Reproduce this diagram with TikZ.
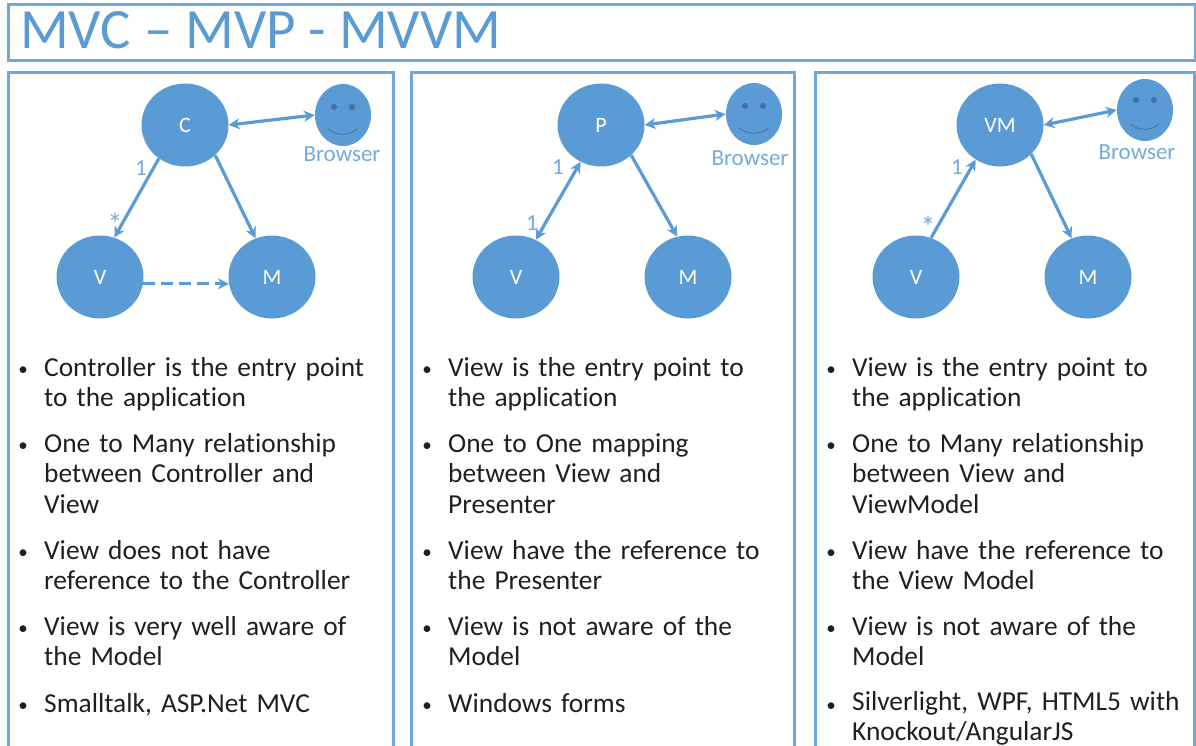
\documentclass[tikz,border=0pt]{standalone}
\usepackage{fontspec}
\setmainfont[Ligatures=NoCommon]{Carlito}
\usetikzlibrary{arrows.meta}
\definecolor{mvcblue}{HTML}{5B9BD5}
\definecolor{mvcframe}{HTML}{6FA8DC}
\definecolor{mvceye}{HTML}{41719C}
\definecolor{mvctext}{HTML}{1F1F1F}
\tikzset{
  panel/.style={draw=mvcframe, line width=3pt},
  role/.style={ellipse node, fill=mvcblue, text=white, font=\fontsize{22}{24}\selectfont},
  ellipse node/.style={shape=ellipse, minimum width=87pt, minimum height=83pt, inner sep=0pt},
  smiley/.style={shape=ellipse, fill=mvcblue, minimum width=56pt, minimum height=62pt, inner sep=0pt},
  tag/.style={text=mvcblue!85, inner sep=0pt, font=\fontsize{23}{24}\selectfont},
  star/.style={text=mvcblue!85, inner sep=0pt, font=\fontsize{30}{30}\selectfont},
  link/.style={draw=mvcblue, line width=3.2pt, -{Stealth[length=11pt,width=11pt]}},
  bothlink/.style={link, {Stealth[length=11pt,width=11pt]}-{Stealth[length=11pt,width=11pt]}},
  item/.style={anchor=north west, inner sep=0pt, text=mvctext, text width=345pt, align=left,
    font=\fontsize{27.4}{30.6}\selectfont},
  dot/.style={inner sep=0pt, text=mvctext, font=\fontsize{19}{20}\selectfont}
}
\usetikzlibrary{shapes.geometric}
\begin{document}
\begin{tikzpicture}[x=1pt,y=-1pt]
\useasboundingbox (0,0) rectangle (1196,746);

% title
\draw [panel] (8,5) rectangle (1195,61);
\node [anchor=west, inner sep=0pt, text=mvcblue, font=\fontsize{57}{60}\selectfont] (title) at (20,30) {MVC – MVP - MVVM};

% three frames, cut by the lower edge
\draw [panel] (8,746) -- (8,73) -- (393,73) -- (393,746);
\draw [panel] (411,746) -- (411,73) -- (794,73) -- (794,746);
\draw [panel] (815,746) -- (815,73) -- (1194,73) -- (1194,746);

% MVC
\node [role] (c) at (185,125) {C};
\node [role] (cv) at (100,277) {V};
\node [role] (cm) at (272,277) {M};
\node [smiley] (cb) at (343,115) {};
\fill [mvceye] (334,107) circle (3);
\fill [mvceye] (352,107) circle (3);
\draw [mvceye, line width=.8pt] (328,129) .. controls (336,136) and (350,136) .. (357,129);
\node [tag] (cbt) at (342,154) {Browser};
\draw [bothlink] (c.east) -- (cb.west);
\draw [link] (c.232) -- (cv.70);
\draw [link] (c.-45) -- (cm.113);
\draw [link, dashed, dash pattern=on 12pt off 6pt] (cv.-9) -- (cm.189);
\node [tag] (c1) at (141,168) {1};
\node [star] (c2) at (115,224) {*};

% MVP
\node [role] (p) at (601,125) {P};
\node [role] (pv) at (516,277) {V};
\node [role] (pm) at (688,277) {M};
\node [smiley] (pb) at (754,114) {};
\fill [mvceye] (745,106) circle (3);
\fill [mvceye] (763,106) circle (3);
\draw [mvceye, line width=.8pt] (739,128) .. controls (747,135) and (761,135) .. (768,128);
\node [tag] (pbt) at (750,158) {Browser};
\draw [bothlink] (p.east) -- (pb.west);
\draw [bothlink] (p.241) -- (pv.62);
\draw [link] (p.-45) -- (pm.105);
\node [tag] (p1) at (558,167) {1};
\node [tag] (p2) at (532,223) {1};

% MVVM
\node [role] (vm) at (1000,125) {VM};
\node [role] (vv) at (916,277) {V};
\node [role] (vmm) at (1088,277) {M};
\node [smiley] (vb) at (1145,110) {};
\fill [mvceye] (1136,100) circle (3);
\fill [mvceye] (1154,100) circle (3);
\draw [mvceye, line width=.8pt] (1130,124) .. controls (1138,131) and (1152,131) .. (1159,124);
\node [tag] (vbt) at (1137,152) {Browser};
\draw [bothlink] (vm.east) -- (vb.west);
\draw [link] (vv.69) -- (vm.235);
\draw [link] (vm.-43) -- (vmm.113);
\node [tag] (v1) at (957,167) {1};
\node [star] (v2) at (928,227) {*};

% texts, MVC
\node [dot] (ca) at (23,371) {•};
\node [item] (cta) at (44,357) {Controller is the entry point\\to the application};
\node [dot] (cc) at (23,447) {•};
\node [item] (ctc) at (44,433) {One to Many relationship\\between Controller and\\View};
\node [dot] (cd) at (23,554) {•};
\node [item] (ctd) at (44,540) {View does not have\\reference to the Controller};
\node [dot] (ce) at (23,630) {•};
\node [item] (cte) at (44,616) {View is very well aware of\\the Model};
\node [dot] (cf) at (23,707) {•};
\node [item] (ctf) at (44,693) {Smalltalk, ASP.Net MVC};

% texts, MVP
\node [dot] (pa) at (427,371) {•};
\node [item] (pta) at (448,357) {View is the entry point to\\the application};
\node [dot] (pc) at (427,447) {•};
\node [item] (ptc) at (448,433) {One to One mapping\\between View and\\Presenter};
\node [dot] (pd) at (427,554) {•};
\node [item] (ptd) at (448,540) {View have the reference to\\the Presenter};
\node [dot] (pe) at (427,630) {•};
\node [item] (pte) at (448,616) {View is not aware of the\\Model};
\node [dot] (pf) at (427,707) {•};
\node [item] (ptf) at (448,693) {Windows forms};

% texts, MVVM
\node [dot] (va) at (831,371) {•};
\node [item] (vta) at (852,357) {View is the entry point to\\the application};
\node [dot] (vc) at (831,447) {•};
\node [item] (vtc) at (852,433) {One to Many relationship\\between View and\\ViewModel};
\node [dot] (vd) at (831,554) {•};
\node [item] (vtd) at (852,540) {View have the reference to\\the View Model};
\node [dot] (ve) at (831,630) {•};
\node [item] (vte) at (852,616) {View is not aware of the\\Model};
\node [dot] (vf) at (831,707) {•};
\node [item] (vtf) at (852,691) {Silverlight, WPF, HTML5 with\\Knockout/AngularJS};
\end{tikzpicture}
\end{document}
